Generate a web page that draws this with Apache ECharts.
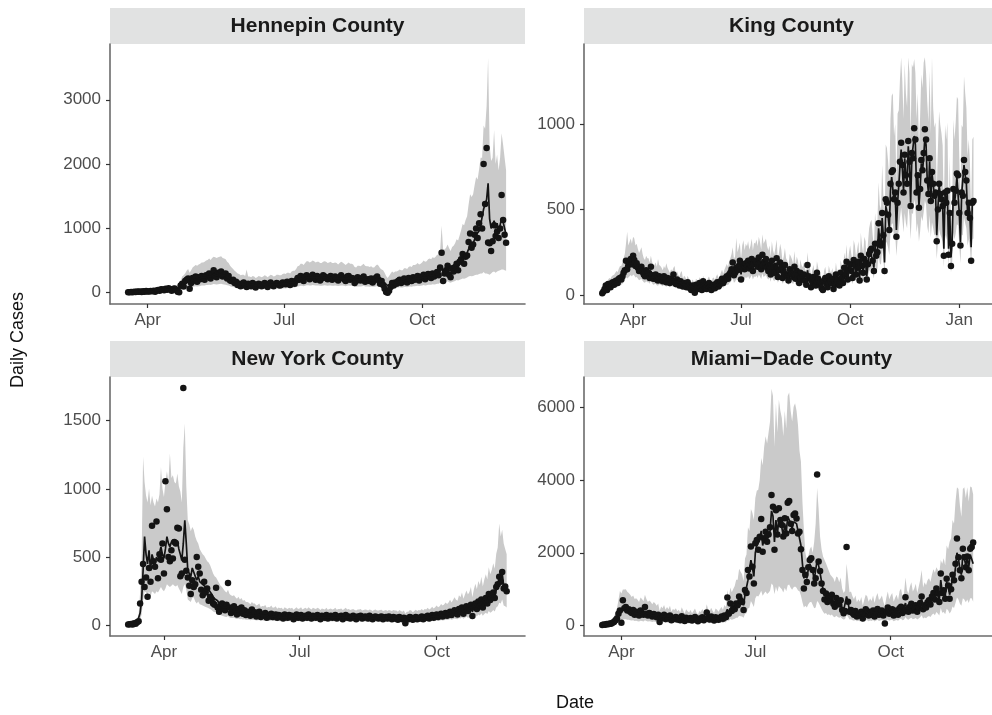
<!DOCTYPE html>
<html>
<head>
<meta charset="utf-8">
<title>Daily Cases</title>
<script src="https://cdn.jsdelivr.net/npm/echarts@6/dist/echarts.min.js"></script>
<style>
  html, body { margin: 0; padding: 0; background: #fff; }
  #chart { width: 992px; height: 715px; }
</style>
</head>
<body>
<div id="chart"></div>
<script>
// x values are day numbers, 1 Jan 2020 = 0
const monthDays  = [91, 182, 274, 366];
const monthNames = ['Apr', 'Jul', 'Oct', 'Jan'];

// ─── Hennepin County ─────────────────────────────────────────
const hennStart = 78;
const hennTicks = [0, 1000, 2000, 3000];
const hennCases = [
  5, 8, 12, 6, 15, 10, 18, 14, 20, 12,
  22, 16, 25, 20, 18, 28, 24, 30, 15, 35,
  40, 32, 55, 48, 38, 60, 45, 70, 52, 30,
  58, 65, 40, 15, 5, 110, 140, 95, 180, 200,
  220, 60, 150, 230, 190, 250, 170, 240, 210, 260,
  230, 200, 270, 250, 300, 220, 280, 350, 260, 240,
  310, 290, 330, 250, 280, 300, 220, 260, 190, 180,
  200, 150, 170, 120, 140, 100, 130, 160, 110, 90,
  140, 120, 100, 150, 130, 80, 110, 140, 120, 100,
  130, 150, 110, 90, 140, 160, 120, 100, 130, 150,
  140, 110, 120, 160, 150, 130, 170, 140, 120, 180,
  160, 140, 190, 230, 200, 260, 220, 180, 250, 270,
  240, 210, 250, 280, 230, 200, 260, 240, 190, 220,
  270, 250, 230, 210, 240, 260, 200, 230, 250, 220,
  190, 240, 270, 230, 210, 180, 250, 260, 200, 230,
  220, 150, 180, 240, 210, 190, 230, 250, 170, 200,
  210, 180, 220, 160, 190, 230, 250, 200, 140, 180,
  120, 60, 10, 0, 30, 90, 150, 110, 160, 140,
  180, 200, 150, 170, 220, 190, 160, 230, 210, 180,
  240, 200, 220, 260, 190, 230, 250, 280, 210, 240,
  290, 260, 230, 300, 250, 280, 320, 270, 390, 620,
  180, 300, 350, 420, 280, 240, 380, 330, 400, 450,
  350, 480, 520, 600, 450, 560, 580, 790, 920, 700,
  750, 900, 1000, 850, 1080, 1220, 1000, 2000, 1380, 2250,
  780, 770, 650, 800, 1050, 880, 950, 850, 1000, 1520,
  1130, 900, 775
];
const hennFit = [
  8, 9, 10, 11, 12, 13, 14, 15, 16, 17,
  18, 19, 20, 21, 22, 24, 25, 27, 28, 30,
  32, 35, 38, 40, 42, 45, 48, 50, 52, 50,
  55, 58, 50, 40, 45, 90, 120, 130, 150, 170,
  180, 150, 170, 190, 200, 210, 205, 215, 220, 230,
  230, 235, 245, 250, 260, 250, 265, 280, 270, 265,
  275, 280, 285, 270, 265, 260, 240, 230, 210, 195,
  185, 170, 160, 150, 140, 130, 130, 135, 125, 115,
  120, 120, 115, 125, 120, 110, 115, 125, 120, 115,
  120, 130, 125, 115, 125, 135, 130, 120, 125, 135,
  135, 130, 130, 140, 145, 140, 150, 150, 145, 160,
  165, 165, 180, 200, 205, 220, 220, 210, 225, 240,
  240, 230, 235, 245, 240, 230, 235, 235, 225, 225,
  235, 240, 235, 225, 230, 235, 225, 225, 230, 225,
  215, 225, 235, 230, 220, 210, 220, 230, 220, 220,
  215, 195, 190, 205, 205, 200, 210, 220, 205, 200,
  200, 195, 200, 190, 190, 205, 215, 205, 185, 175,
  170, 150, 125, 110, 125, 145, 160, 150, 160, 160,
  165, 175, 170, 170, 185, 185, 180, 195, 200, 195,
  210, 210, 215, 225, 215, 220, 230, 245, 235, 240,
  255, 260, 255, 270, 265, 275, 290, 290, 320, 380,
  330, 330, 345, 370, 340, 320, 350, 360, 380, 410,
  400, 440, 480, 530, 520, 560, 590, 680, 760, 740,
  760, 830, 900, 880, 960, 1050, 1050, 1300, 1270, 1450,
  1700, 1150, 1000, 1050, 1120, 1000, 1080, 950, 1050, 1150,
  1100, 1000, 900
];
const hennLo = [
  0, 0, 1, 1, 2, 2, 3, 3, 4, 4,
  5, 5, 6, 6, 7, 8, 8, 9, 10, 10,
  12, 13, 14, 15, 16, 17, 18, 19, 20, 20,
  22, 23, 20, 16, 18, 40, 55, 60, 70, 80,
  85, 70, 80, 90, 95, 100, 98, 102, 105, 110,
  110, 112, 118, 120, 125, 120, 128, 135, 130, 128,
  132, 135, 138, 130, 128, 125, 116, 110, 100, 94,
  88, 82, 77, 72, 68, 63, 63, 65, 60, 55,
  58, 58, 55, 60, 58, 53, 55, 60, 58, 55,
  58, 62, 60, 55, 60, 65, 62, 58, 60, 65,
  65, 62, 62, 67, 70, 67, 72, 72, 70, 77,
  80, 80, 87, 96, 99, 106, 106, 101, 108, 115,
  115, 110, 113, 118, 115, 110, 113, 113, 108, 108,
  113, 115, 113, 108, 110, 113, 108, 108, 110, 108,
  103, 108, 113, 110, 106, 101, 106, 110, 106, 106,
  103, 94, 91, 98, 98, 96, 101, 106, 98, 96,
  96, 94, 96, 91, 91, 98, 103, 98, 89, 84,
  82, 72, 60, 53, 60, 70, 77, 72, 77, 77,
  79, 84, 82, 82, 89, 89, 86, 94, 96, 94,
  101, 101, 103, 108, 103, 106, 110, 118, 113, 115,
  122, 125, 122, 130, 127, 132, 139, 139, 154, 182,
  158, 158, 166, 178, 163, 154, 168, 173, 182, 197,
  190, 200, 210, 220, 215, 225, 235, 250, 260, 255,
  260, 270, 280, 280, 290, 300, 300, 320, 300, 300,
  290, 280, 300, 320, 330, 310, 330, 340, 350, 360,
  360, 350, 340
];
const hennHi = [
  20, 22, 25, 26, 28, 30, 32, 34, 36, 38,
  40, 42, 45, 46, 48, 52, 55, 58, 60, 64,
  68, 74, 80, 84, 88, 94, 100, 104, 108, 104,
  115, 120, 105, 85, 95, 180, 250, 270, 300, 340,
  370, 310, 350, 390, 410, 430, 420, 440, 450, 470,
  470, 480, 500, 510, 530, 510, 540, 560, 550, 540,
  550, 560, 565, 540, 530, 520, 480, 460, 420, 390,
  370, 340, 320, 300, 290, 270, 280, 280, 260, 360,
  250, 250, 240, 260, 250, 230, 240, 260, 250, 240,
  250, 270, 260, 240, 260, 280, 270, 250, 260, 280,
  280, 270, 270, 290, 300, 290, 310, 310, 300, 330,
  340, 340, 370, 410, 420, 450, 450, 430, 460, 490,
  490, 470, 480, 500, 490, 470, 480, 480, 460, 460,
  480, 490, 480, 460, 470, 480, 460, 460, 470, 460,
  440, 460, 480, 470, 450, 430, 450, 470, 450, 450,
  440, 400, 390, 420, 420, 410, 430, 450, 420, 410,
  410, 400, 410, 390, 390, 420, 440, 420, 380, 360,
  350, 310, 260, 230, 260, 300, 330, 310, 330, 330,
  340, 360, 350, 350, 380, 380, 370, 400, 410, 400,
  430, 430, 440, 460, 440, 450, 470, 500, 480, 490,
  520, 530, 520, 550, 540, 560, 590, 590, 650, 1040,
  680, 670, 700, 750, 690, 650, 710, 730, 770, 830,
  810, 890, 970, 1070, 1050, 1130, 1190, 1370, 1530, 1490,
  1530, 1670, 1800, 1760, 1920, 2100, 2100, 2600, 2550, 2900,
  3650, 2300, 2050, 2100, 2530, 2000, 2150, 1900, 2100, 2480,
  2300, 2100, 1900
];

// ─── King County ─────────────────────────────────────────────
const kingStart = 65;
const kingTicks = [0, 500, 1000];
const kingCases = [
  10, 20, 35, 55, 30, 65, 60, 45, 70, 75,
  60, 80, 85, 70, 95, 100, 90, 110, 130, 145,
  200, 150, 175, 195, 210, 180, 230, 205, 170, 185,
  160, 140, 150, 165, 135, 120, 110, 145, 125, 130,
  100, 165, 115, 95, 105, 120, 90, 85, 110, 100,
  95, 80, 110, 90, 75, 100, 85, 70, 95, 80,
  120, 75, 65, 90, 70, 55, 80, 60, 50, 70,
  60, 45, 75, 55, 40, 30, 55, 45, 13, 60,
  50, 35, 70, 45, 30, 80, 55, 40, 35, 60,
  70, 45, 30, 55, 60, 40, 65, 75, 50, 60,
  80, 95, 70, 85, 100, 110, 95, 120, 130, 150,
  190, 115, 130, 160, 145, 170, 200, 90, 180, 165,
  150, 185, 170, 200, 155, 175, 210, 140, 190, 180,
  200, 165, 220, 185, 150, 235, 175, 195, 210, 160,
  140, 180, 120, 200, 150, 130, 170, 215, 105, 145,
  190, 160, 100, 130, 175, 120, 110, 85, 150, 135,
  125, 105, 165, 95, 140, 115, 70, 130, 100, 90,
  120, 85, 60, 175, 110, 95, 45, 80, 105, 70,
  55, 130, 95, 60, 75, 40, 30, 85, 100, 65,
  45, 110, 80, 70, 95, 35, 60, 120, 75, 90,
  55, 130, 100, 70, 160, 120, 195, 90, 150, 180,
  140, 100, 205, 175, 120, 160, 195, 85, 230, 170,
  130, 210, 190, 90, 180, 240, 260, 270, 200, 140,
  300, 230, 250, 420, 310, 290, 480, 350, 140, 560,
  540, 470, 380, 650, 720, 730, 560, 600, 340, 540,
  650, 780, 890, 760, 600, 820, 700, 650, 900, 780,
  520, 830, 800, 975, 910, 600, 700, 510, 620, 790,
  730, 830, 970, 910, 670, 590, 800, 550, 720, 650,
  580, 600, 315, 500, 650, 590, 560, 520, 230, 600,
  540, 610, 235, 480, 170, 300, 620, 540, 610, 710,
  700, 480, 290, 600, 580, 790, 720, 670, 480, 540,
  450, 200, 540, 550
];
const kingFit = [
  15, 25, 35, 45, 40, 55, 60, 55, 65, 70,
  70, 78, 85, 80, 92, 100, 100, 110, 125, 140,
  175, 160, 170, 185, 195, 180, 200, 190, 170, 175,
  160, 145, 150, 155, 140, 125, 120, 135, 125, 125,
  110, 140, 115, 100, 105, 110, 95, 90, 105, 100,
  95, 85, 100, 90, 80, 92, 85, 75, 88, 80,
  95, 75, 68, 82, 70, 60, 75, 62, 55, 65,
  60, 50, 65, 55, 45, 40, 52, 45, 30, 55,
  50, 42, 60, 48, 38, 65, 52, 45, 42, 55,
  62, 50, 40, 55, 58, 48, 62, 70, 55, 62,
  75, 85, 72, 85, 95, 105, 95, 115, 125, 140,
  165, 120, 130, 155, 145, 160, 180, 120, 170, 160,
  150, 175, 165, 185, 155, 170, 195, 150, 180, 175,
  190, 165, 200, 180, 155, 210, 175, 185, 195, 165,
  150, 170, 130, 185, 150, 135, 160, 190, 120, 145,
  175, 155, 110, 130, 160, 125, 115, 95, 140, 130,
  120, 105, 150, 100, 130, 115, 80, 120, 100, 92,
  110, 88, 70, 145, 105, 95, 58, 82, 100, 75,
  62, 115, 92, 65, 75, 48, 40, 80, 95, 68,
  52, 100, 80, 72, 90, 45, 62, 110, 78, 88,
  62, 120, 98, 75, 145, 118, 175, 95, 145, 170,
  140, 108, 190, 170, 125, 158, 185, 100, 215, 168,
  140, 200, 185, 110, 180, 230, 250, 260, 205, 160,
  285, 235, 255, 390, 310, 295, 450, 345, 190, 520,
  510, 460, 390, 610, 690, 700, 550, 590, 380, 540,
  640, 750, 850, 740, 610, 800, 700, 650, 870, 770,
  540, 800, 790, 930, 880, 610, 700, 520, 620, 770,
  720, 810, 920, 880, 670, 600, 780, 560, 710, 650,
  580, 600, 350, 510, 640, 590, 560, 520, 270, 590,
  540, 600, 270, 480, 220, 310, 610, 540, 600, 690,
  680, 480, 310, 590, 580, 760, 700, 650, 480, 540,
  460, 280, 540, 550
];
const kingLo = [
  5, 12, 20, 25, 22, 32, 35, 32, 38, 42,
  42, 46, 50, 48, 55, 60, 60, 66, 75, 84,
  105, 96, 102, 110, 117, 108, 120, 114, 102, 105,
  96, 87, 90, 93, 84, 75, 72, 81, 75, 75,
  66, 84, 69, 60, 63, 66, 57, 54, 63, 60,
  57, 51, 60, 54, 48, 55, 51, 45, 53, 48,
  57, 45, 41, 49, 42, 36, 45, 37, 33, 39,
  36, 30, 39, 33, 27, 24, 31, 27, 18, 33,
  30, 25, 36, 29, 23, 39, 31, 27, 25, 33,
  37, 30, 24, 33, 35, 29, 37, 42, 33, 37,
  45, 51, 43, 51, 57, 63, 57, 69, 75, 84,
  99, 72, 78, 93, 87, 96, 108, 72, 102, 96,
  90, 105, 99, 111, 93, 102, 117, 90, 108, 105,
  114, 99, 120, 108, 93, 126, 105, 111, 117, 99,
  90, 102, 78, 111, 90, 81, 96, 114, 72, 87,
  105, 93, 66, 78, 96, 75, 69, 57, 84, 78,
  72, 63, 90, 60, 78, 69, 48, 72, 60, 55,
  66, 53, 42, 87, 63, 57, 35, 49, 60, 45,
  37, 69, 55, 39, 45, 29, 24, 48, 57, 41,
  31, 60, 48, 43, 54, 27, 37, 66, 47, 53,
  37, 72, 59, 45, 87, 71, 105, 57, 87, 102,
  84, 65, 114, 102, 75, 95, 111, 60, 129, 101,
  84, 120, 111, 66, 108, 138, 150, 156, 123, 96,
  171, 141, 153, 234, 186, 177, 270, 207, 114, 312,
  306, 276, 234, 366, 414, 420, 330, 354, 228, 324,
  384, 450, 510, 444, 366, 480, 420, 390, 522, 462,
  324, 480, 474, 558, 528, 366, 420, 312, 372, 462,
  432, 486, 552, 528, 402, 360, 468, 336, 426, 390,
  348, 360, 210, 306, 384, 354, 336, 312, 162, 354,
  324, 360, 162, 288, 132, 186, 366, 324, 360, 414,
  408, 288, 186, 354, 348, 456, 420, 390, 288, 324,
  276, 168, 324, 330
];
const kingHi = [
  30, 45, 60, 75, 70, 90, 100, 95, 110, 115,
  118, 130, 140, 135, 155, 170, 170, 190, 215, 240,
  300, 370, 290, 310, 330, 300, 340, 330, 290, 300,
  270, 245, 260, 280, 240, 215, 205, 230, 215, 215,
  190, 230, 195, 170, 175, 190, 165, 210, 175, 170,
  160, 145, 170, 155, 185, 160, 145, 130, 150, 140,
  160, 170, 118, 140, 120, 105, 130, 140, 95, 112,
  105, 88, 112, 95, 78, 70, 90, 80, 55, 95,
  88, 75, 105, 85, 68, 112, 92, 80, 75, 98,
  108, 88, 72, 98, 102, 86, 108, 122, 98, 108,
  130, 148, 125, 148, 165, 182, 165, 198, 215, 240,
  280, 210, 225, 335, 250, 275, 305, 210, 290, 320,
  260, 300, 285, 315, 265, 290, 330, 260, 305, 300,
  325, 285, 340, 310, 265, 355, 300, 315, 330, 285,
  260, 290, 225, 315, 260, 235, 275, 325, 210, 250,
  300, 265, 195, 225, 275, 215, 200, 168, 240, 225,
  208, 182, 258, 175, 225, 200, 142, 208, 175, 162,
  190, 155, 125, 250, 182, 165, 105, 145, 175, 132,
  110, 198, 162, 116, 132, 88, 72, 140, 165, 120,
  94, 172, 140, 128, 158, 82, 110, 190, 138, 155,
  112, 205, 170, 133, 248, 205, 295, 168, 248, 290,
  240, 188, 322, 290, 218, 270, 315, 175, 365, 288,
  240, 340, 315, 192, 305, 390, 425, 440, 350, 275,
  480, 400, 435, 660, 525, 500, 760, 585, 330, 880,
  860, 780, 665, 1030, 1165, 1180, 930, 1000, 650, 1060,
  1080, 1260, 1390, 1250, 1030, 1350, 1180, 1100, 1390, 1300,
  920, 1350, 1330, 1380, 1300, 1030, 1180, 880, 1045, 1290,
  1210, 1360, 1390, 1300, 1130, 1010, 1310, 945, 1390, 1095,
  980, 1010, 595, 860, 1075, 995, 945, 875, 460, 995,
  910, 1010, 460, 810, 380, 525, 1025, 910, 1010, 1160,
  1145, 810, 525, 995, 980, 1280, 1180, 1095, 810, 910,
  775, 475, 910, 925
];

// ─── New York County ─────────────────────────────────────────
const nyStart = 67;
const nyTicks = [0, 500, 1000, 1500];
const nyCases = [
  5, 8, 10, 6, 15, 12, 22, 30, 160, 320,
  450, 280, 350, 210, 420, 320, 730, 470, 430, 760,
  345, 520, 480, 600, 380, 1055, 850, 500, 470, 550,
  490, 610, 600, 715, 710, 360, 380, 1740, 480, 400,
  350, 290, 230, 330, 280, 300, 500, 430, 380, 260,
  220, 320, 240, 270, 180, 210, 190, 160, 150, 275,
  130, 100, 140, 160, 120, 110, 150, 310, 130, 90,
  110, 140, 100, 80, 120, 95, 130, 85, 110, 75,
  100, 90, 70, 115, 80, 95, 65, 85, 100, 60,
  80, 70, 90, 55, 75, 65, 85, 60, 70, 80,
  55, 75, 60, 70, 50, 80, 65, 55, 75, 60,
  70, 45, 65, 80, 55, 60, 75, 50, 65, 70,
  55, 80, 60, 50, 70, 65, 55, 75, 60, 45,
  70, 60, 55, 75, 50, 65, 70, 55, 60, 75,
  50, 65, 60, 70, 45, 60, 75, 55, 65, 50,
  60, 70, 55, 45, 65, 60, 70, 50, 55, 65,
  60, 50, 70, 55, 45, 60, 65, 55, 50, 60,
  65, 45, 55, 60, 50, 65, 55, 45, 60, 50,
  55, 40, 60, 50, 45, 55, 15, 50, 45, 60,
  55, 40, 50, 60, 45, 55, 50, 65, 45, 60,
  55, 70, 50, 60, 75, 55, 65, 80, 60, 70,
  85, 65, 75, 90, 70, 85, 100, 75, 95, 110,
  90, 80, 120, 100, 130, 85, 115, 140, 105, 125,
  150, 68, 135, 160, 120, 175, 145, 190, 130, 170,
  200, 160, 230, 185, 210, 240, 200, 280, 300, 355,
  320, 390, 270, 285, 250
];
const nyFit = [
  5, 7, 9, 10, 12, 14, 18, 28, 90, 180,
  400, 650, 520, 450, 550, 400, 520, 480, 450, 500,
  470, 530, 575, 520, 490, 560, 650, 600, 575, 610,
  625, 600, 590, 620, 560, 520, 475, 600, 770, 600,
  400, 380, 355, 420, 430, 360, 330, 360, 320, 310,
  300, 290, 280, 270, 260, 250, 230, 210, 195, 200,
  180, 160, 150, 140, 130, 125, 120, 140, 115, 105,
  105, 110, 100, 92, 98, 90, 95, 85, 88, 80,
  82, 80, 75, 82, 76, 78, 70, 74, 78, 66,
  70, 68, 72, 62, 66, 64, 70, 62, 64, 68,
  60, 64, 60, 62, 56, 64, 60, 58, 62, 60,
  62, 55, 60, 64, 58, 60, 64, 56, 60, 62,
  58, 64, 60, 56, 62, 60, 58, 62, 60, 54,
  60, 58, 56, 62, 55, 58, 60, 56, 58, 62,
  55, 58, 58, 60, 54, 58, 62, 56, 58, 54,
  56, 58, 54, 52, 56, 56, 58, 52, 54, 56,
  55, 52, 56, 54, 50, 54, 56, 52, 52, 54,
  55, 50, 52, 54, 50, 54, 52, 50, 54, 52,
  52, 48, 54, 50, 48, 52, 40, 48, 48, 54,
  52, 46, 50, 55, 50, 54, 52, 58, 52, 58,
  56, 62, 56, 60, 66, 60, 64, 70, 64, 68,
  76, 70, 74, 82, 76, 82, 92, 82, 90, 100,
  92, 88, 108, 100, 118, 95, 110, 125, 110, 120,
  138, 100, 130, 150, 130, 160, 145, 175, 140, 165,
  185, 165, 210, 185, 200, 225, 205, 260, 280, 330,
  320, 380, 290, 280, 260
];
const nyLo = [
  0, 1, 2, 3, 4, 5, 8, 12, 40, 80,
  180, 250, 240, 220, 250, 210, 250, 240, 230, 250,
  240, 260, 280, 260, 250, 270, 300, 290, 280, 290,
  300, 290, 285, 295, 270, 250, 230, 280, 300, 260,
  190, 180, 170, 200, 205, 175, 160, 175, 155, 150,
  145, 140, 135, 130, 125, 120, 112, 102, 95, 97,
  88, 80, 75, 70, 66, 63, 60, 68, 58, 53,
  53, 55, 50, 46, 49, 45, 47, 42, 44, 40,
  41, 40, 37, 41, 38, 39, 35, 37, 39, 33,
  35, 34, 36, 31, 33, 32, 35, 31, 32, 34,
  30, 32, 30, 31, 28, 32, 30, 29, 31, 30,
  31, 27, 30, 32, 29, 30, 32, 28, 30, 31,
  29, 32, 30, 28, 31, 30, 29, 31, 30, 27,
  30, 29, 28, 31, 27, 29, 30, 28, 29, 31,
  27, 29, 29, 30, 27, 29, 31, 28, 29, 27,
  28, 29, 27, 26, 28, 28, 29, 26, 27, 28,
  27, 26, 28, 27, 25, 27, 28, 26, 26, 27,
  27, 25, 26, 27, 25, 27, 26, 25, 27, 26,
  26, 24, 27, 25, 24, 26, 20, 24, 24, 27,
  26, 23, 25, 27, 25, 27, 26, 29, 26, 29,
  28, 31, 28, 30, 33, 30, 32, 35, 32, 34,
  38, 35, 37, 41, 38, 41, 46, 41, 45, 50,
  46, 44, 54, 50, 59, 48, 55, 62, 55, 60,
  69, 50, 65, 75, 65, 80, 72, 88, 70, 82,
  92, 82, 105, 92, 100, 112, 102, 130, 140, 165,
  160, 190, 145, 140, 130
];
const nyHi = [
  15, 20, 25, 28, 32, 38, 50, 75, 240, 480,
  1235, 1050, 950, 900, 1000, 880, 950, 900, 870, 930,
  900, 960, 1160, 1000, 940, 1050, 1130, 1050, 1260, 1080,
  1100, 1050, 1040, 1112, 1020, 980, 900, 1300, 1480, 1020,
  770, 740, 690, 720, 700, 650, 620, 600, 560, 540,
  520, 510, 490, 470, 460, 440, 410, 380, 360, 350,
  330, 310, 290, 280, 265, 250, 240, 260, 230, 220,
  215, 220, 205, 195, 210, 190, 200, 180, 185, 170,
  170, 165, 155, 170, 160, 160, 145, 150, 160, 135,
  142, 140, 148, 128, 135, 132, 145, 128, 130, 140,
  122, 130, 125, 128, 115, 132, 125, 120, 128, 124,
  128, 114, 124, 132, 120, 124, 132, 116, 124, 128,
  120, 132, 124, 116, 128, 124, 120, 128, 124, 112,
  124, 120, 116, 128, 114, 120, 124, 116, 120, 128,
  114, 120, 120, 124, 112, 120, 128, 116, 120, 112,
  116, 120, 112, 108, 116, 116, 120, 108, 112, 116,
  114, 108, 116, 112, 104, 112, 116, 108, 108, 112,
  114, 104, 108, 112, 104, 112, 108, 104, 112, 108,
  108, 100, 112, 104, 100, 108, 85, 100, 100, 112,
  108, 96, 104, 114, 104, 112, 108, 120, 108, 120,
  116, 128, 116, 124, 136, 124, 132, 145, 132, 140,
  156, 145, 152, 168, 156, 168, 188, 168, 185, 205,
  188, 180, 220, 205, 240, 195, 225, 255, 225, 245,
  280, 205, 265, 305, 265, 325, 295, 355, 285, 335,
  375, 335, 425, 375, 405, 455, 415, 525, 570, 747,
  650, 700, 600, 560, 520
];

// ─── Miami-Dade County ───────────────────────────────────────
const miamiStart = 78;
const miamiTicks = [0, 2000, 4000, 6000];
const miamiCases = [
  20, 30, 25, 45, 40, 60, 55, 80, 100, 150,
  200, 330, 420, 80, 700, 480, 510, 420, 450, 380,
  350, 430, 300, 380, 320, 280, 420, 350, 300, 510,
  330, 280, 350, 300, 250, 320, 280, 230, 300, 100,
  260, 220, 300, 180, 250, 200, 280, 150, 220, 190,
  240, 170, 210, 150, 260, 190, 130, 220, 180, 160,
  210, 140, 190, 240, 160, 120, 200, 170, 230, 150,
  190, 360, 210, 170, 250, 180, 140, 230, 200, 160,
  220, 250, 190, 280, 230, 770, 330, 610, 400, 480,
  450, 610, 560, 800, 700, 650, 430, 980, 900, 1530,
  1350, 2170, 1620, 1160, 2260, 2350, 2080, 2440, 2930, 2030,
  2400, 2580, 2300, 2500, 2700, 3585, 3265, 2080, 3170, 2500,
  3220, 2900, 2760, 2450, 2950, 2530, 3375, 3420, 2800, 2600,
  3040, 3080, 2940, 2530, 2580, 2100, 1530, 1020, 1400, 1200,
  1600, 1800, 1850, 1530, 1160, 1300, 4150, 1760, 1500, 1160,
  950, 720, 880, 650, 800, 700, 850, 600, 520, 760,
  650, 580, 700, 430, 340, 400, 2160, 660, 380, 430,
  350, 300, 400, 250, 330, 280, 380, 200, 320, 450,
  400, 280, 350, 300, 420, 250, 380, 460, 300, 350,
  420, 280, 60, 380, 500, 330, 400, 450, 280, 360,
  420, 300, 480, 520, 350, 400, 780, 450, 380, 520,
  600, 420, 480, 560, 380, 500, 620, 800, 450, 560,
  500, 640, 700, 580, 800, 900, 720, 1020, 880, 650,
  1430, 900, 970, 740, 1290, 1100, 740, 1000, 1400, 1244,
  1700, 2390, 1880, 1520, 1300, 2110, 1880, 1600, 1900, 1518,
  2114, 2160, 2280
];
const miamiFit = [
  20, 28, 32, 40, 45, 55, 62, 80, 100, 140,
  190, 280, 380, 350, 450, 470, 480, 440, 430, 400,
  370, 390, 340, 350, 330, 300, 360, 340, 310, 400,
  340, 300, 320, 300, 270, 300, 280, 250, 280, 180,
  240, 220, 260, 200, 235, 205, 250, 175, 210, 195,
  220, 180, 200, 165, 230, 190, 150, 205, 180, 165,
  195, 155, 185, 215, 165, 140, 185, 170, 210, 160,
  180, 270, 200, 180, 225, 185, 160, 215, 200, 175,
  210, 235, 200, 260, 235, 450, 340, 480, 420, 460,
  500, 580, 580, 720, 680, 650, 560, 850, 900, 1250,
  1300, 1800, 1600, 1350, 2000, 2200, 2150, 2350, 2600, 2200,
  2400, 2550, 2350, 2450, 2600, 3150, 3000, 2300, 2900, 2500,
  2950, 2800, 2700, 2450, 2800, 2550, 3000, 3050, 2800, 2650,
  2850, 2900, 2800, 2600, 2550, 2200, 1700, 1300, 1450, 1300,
  1550, 1700, 1750, 1500, 1250, 1300, 1800, 1650, 1450, 1200,
  1000, 850, 900, 750, 820, 720, 800, 650, 580, 700,
  620, 560, 620, 480, 420, 450, 800, 620, 430, 440,
  380, 340, 390, 300, 340, 310, 370, 260, 330, 400,
  380, 310, 350, 320, 390, 290, 370, 420, 330, 350,
  390, 310, 250, 360, 440, 340, 390, 420, 310, 360,
  400, 330, 450, 480, 370, 410, 620, 460, 410, 500,
  560, 440, 480, 540, 420, 500, 590, 720, 490, 560,
  520, 620, 680, 600, 760, 850, 730, 960, 860, 700,
  1250, 900, 960, 800, 1200, 1080, 850, 1020, 1350, 1250,
  1600, 2000, 1850, 1550, 1400, 1950, 1850, 1650, 1850, 1600,
  1950, 1950, 1700
];
const miamiLo = [
  5, 8, 10, 14, 16, 20, 22, 28, 35, 50,
  70, 100, 140, 130, 165, 175, 178, 165, 160, 150,
  140, 146, 128, 132, 125, 114, 136, 128, 118, 150,
  128, 114, 121, 114, 103, 114, 106, 95, 106, 70,
  91, 84, 99, 77, 89, 78, 95, 67, 80, 75,
  84, 69, 76, 63, 88, 73, 58, 78, 69, 63,
  74, 59, 71, 82, 63, 54, 71, 65, 80, 61,
  69, 103, 76, 69, 86, 71, 61, 82, 76, 67,
  80, 89, 76, 99, 89, 170, 130, 182, 160, 175,
  190, 220, 220, 270, 260, 250, 215, 320, 340, 470,
  490, 680, 600, 510, 750, 820, 800, 870, 960, 820,
  890, 940, 870, 905, 960, 1160, 1110, 860, 1070, 930,
  1090, 1040, 1000, 910, 1040, 945, 1110, 1130, 1040, 985,
  1055, 1075, 1040, 965, 945, 820, 640, 500, 550, 500,
  590, 640, 660, 570, 480, 500, 680, 630, 550, 460,
  385, 330, 350, 290, 315, 280, 310, 255, 230, 270,
  240, 220, 240, 190, 170, 180, 310, 240, 170, 175,
  150, 135, 155, 120, 135, 125, 145, 105, 130, 155,
  150, 125, 140, 128, 155, 115, 145, 165, 130, 140,
  155, 125, 100, 142, 172, 135, 155, 165, 125, 142,
  158, 132, 178, 190, 148, 163, 240, 182, 163, 198,
  220, 175, 190, 213, 167, 198, 233, 283, 195, 222,
  207, 245, 268, 237, 298, 333, 287, 375, 337, 277,
  485, 353, 375, 315, 467, 422, 335, 398, 525, 487,
  620, 770, 715, 600, 545, 750, 715, 640, 715, 620,
  750, 750, 660
];
const miamiHi = [
  50, 70, 80, 100, 115, 140, 160, 205, 255, 355,
  480, 700, 950, 880, 990, 990, 1000, 930, 900, 850,
  790, 830, 730, 750, 710, 650, 770, 730, 670, 850,
  730, 650, 690, 650, 590, 650, 610, 545, 610, 400,
  525, 480, 570, 440, 515, 450, 545, 385, 460, 430,
  480, 395, 440, 365, 505, 420, 330, 450, 395, 365,
  430, 340, 405, 470, 365, 310, 405, 375, 460, 355,
  395, 590, 440, 395, 495, 405, 350, 470, 440, 385,
  460, 515, 440, 570, 515, 980, 745, 1045, 920, 1005,
  1090, 1260, 1260, 1560, 1480, 1410, 1220, 1840, 1950, 2700,
  2600, 3200, 3100, 2900, 3500, 3700, 3730, 4000, 4600, 4400,
  4900, 5200, 5000, 5300, 5600, 6500, 6300, 4900, 6100, 5300,
  6200, 5900, 5700, 5200, 5900, 5400, 6300, 6400, 5900, 5600,
  6000, 6100, 5900, 5500, 4800, 4500, 3400, 2630, 2000, 1800,
  1900, 2100, 2170, 2000, 2300, 2800, 3780, 3200, 2440, 2100,
  1900, 1800, 1710, 1600, 1500, 1400, 1350, 1300, 1200, 1350,
  1320, 1190, 1320, 1020, 900, 960, 1700, 1320, 915, 935,
  810, 725, 830, 640, 725, 660, 790, 555, 705, 850,
  810, 660, 745, 680, 830, 620, 790, 895, 705, 745,
  830, 660, 535, 765, 935, 725, 830, 895, 660, 765,
  850, 705, 955, 1020, 790, 875, 1320, 980, 875, 1065,
  1190, 935, 1020, 1150, 895, 1065, 1255, 1530, 1045, 1190,
  1110, 1250, 1300, 1200, 1400, 1550, 1450, 1600, 1530, 1450,
  1800, 1700, 1850, 1650, 2200, 2100, 2300, 2400, 2900, 2800,
  3400, 3800, 3750, 3300, 2980, 3750, 3800, 3500, 3800, 3400,
  3820, 3800, 3600
];

// ─── 版面 ────────────────────────────────────────────────────
const FONT = '"Liberation Sans", Arial, Helvetica, sans-serif';
const INK  = '#141414';
const BAND = '#cacaca';

const panels = [
  { name: 'Hennepin County',   start: hennStart,  cases: hennCases,  fit: hennFit,  lo: hennLo,  hi: hennHi,
    yTicks: hennTicks,  nMonths: 3, xRange: [65.9, 342.6], yRange: [-176, 3868],
    grid: { left: 110, top: 44,  width: 415, height: 260 } },
  { name: 'King County',       start: kingStart,  cases: kingCases,  fit: kingFit,  lo: kingLo,  hi: kingHi,
    yTicks: kingTicks,  nMonths: 4, xRange: [49.6, 393.6], yRange: [-52.6, 1468],
    grid: { left: 584, top: 44,  width: 415, height: 260 } },
  { name: 'New York County',   start: nyStart,    cases: nyCases,    fit: nyFit,    lo: nyLo,    hi: nyHi,
    yTicks: nyTicks,    nMonths: 3, xRange: [54.8, 333.3], yRange: [-78.4, 1820],
    grid: { left: 110, top: 377, width: 415, height: 259 } },
  { name: 'Miami\u2212Dade County', start: miamiStart, cases: miamiCases, fit: miamiFit, lo: miamiLo, hi: miamiHi,
    yTicks: miamiTicks, nMonths: 3, xRange: [65.6, 342.8], yRange: [-283, 6823],
    grid: { left: 584, top: 377, width: 415, height: 259 } },
];

const toPairs = (start, vals) => vals.map((v, i) => [start + i, v]);

const grids = [], xAxes = [], yAxes = [], series = [], graphics = [];

panels.forEach((p, i) => {
  grids.push(p.grid);
  const xt = monthDays.slice(0, p.nMonths);

  xAxes.push({
    gridIndex: i, type: 'value', min: p.xRange[0], max: p.xRange[1],
    axisLine:  { onZero: false, lineStyle: { color: '#6b6b6b', width: 1.6 } },
    axisTick:  { customValues: xt, length: 4, lineStyle: { color: '#333', width: 1.2 } },
    axisLabel: { customValues: xt, formatter: v => monthNames[monthDays.indexOf(v)],
                 margin: 8, color: '#4d4d4d', fontSize: 17, fontFamily: FONT },
    splitLine: { show: false },
  });
  yAxes.push({
    gridIndex: i, type: 'value', min: p.yRange[0], max: p.yRange[1],
    axisLine:  { onZero: false, lineStyle: { color: '#6b6b6b', width: 1.6 } },
    axisTick:  { customValues: p.yTicks, length: 4, lineStyle: { color: '#333', width: 1.2 } },
    axisLabel: { customValues: p.yTicks, formatter: v => String(v),
                 margin: 9, color: '#4d4d4d', fontSize: 17, fontFamily: FONT },
    splitLine: { show: false },
  });

  // 灰色區間：上緣往右、下緣往回，圍成一個多邊形
  series.push({
    type: 'custom', xAxisIndex: i, yAxisIndex: i, silent: true, clip: true,
    data: [[p.start, p.lo[0]]],
    renderItem: (params, api) => {
      const pts = p.hi.map((v, k) => api.coord([p.start + k, v]));
      for (let k = p.lo.length - 1; k >= 0; k--) pts.push(api.coord([p.start + k, p.lo[k]]));
      return { type: 'polygon', shape: { points: pts }, style: { fill: BAND } };
    },
  });
  series.push({
    type: 'line', xAxisIndex: i, yAxisIndex: i,
    data: toPairs(p.start, p.fit), symbol: 'none', silent: true,
    lineStyle: { color: INK, width: 1.7 },
  });
  series.push({
    type: 'scatter', xAxisIndex: i, yAxisIndex: i,
    data: toPairs(p.start, p.cases), symbolSize: 6.5, silent: true,
    itemStyle: { color: INK, opacity: 1 },
  });

  // facet 標題條
  const g = p.grid;
  graphics.push({
    type: 'rect', silent: true,
    shape: { x: g.left, y: g.top - 36, width: g.width, height: 36 },
    style: { fill: '#e1e2e2' },
  });
  graphics.push({
    type: 'text', silent: true, x: g.left + g.width / 2, y: g.top - 18,
    style: { text: p.name, fill: '#1a1a1a', fontSize: 21, fontWeight: 'bold', fontFamily: FONT,
             align: 'center', verticalAlign: 'middle' },
  });
});

graphics.push({
  type: 'text', silent: true, x: 18, y: 340, rotation: Math.PI / 2,
  style: { text: 'Daily Cases', fill: '#111', fontSize: 18, fontFamily: FONT,
           align: 'center', verticalAlign: 'middle' },
});
graphics.push({
  type: 'text', silent: true, x: 575, y: 703,
  style: { text: 'Date', fill: '#111', fontSize: 18, fontFamily: FONT,
           align: 'center', verticalAlign: 'middle' },
});

const chart = echarts.init(document.getElementById('chart'), null, { renderer: 'canvas' });
chart.setOption({
  animation: false,
  backgroundColor: '#ffffff',
  grid: grids,
  xAxis: xAxes,
  yAxis: yAxes,
  series: series,
  graphic: graphics,
});
</script>
</body>
</html>
